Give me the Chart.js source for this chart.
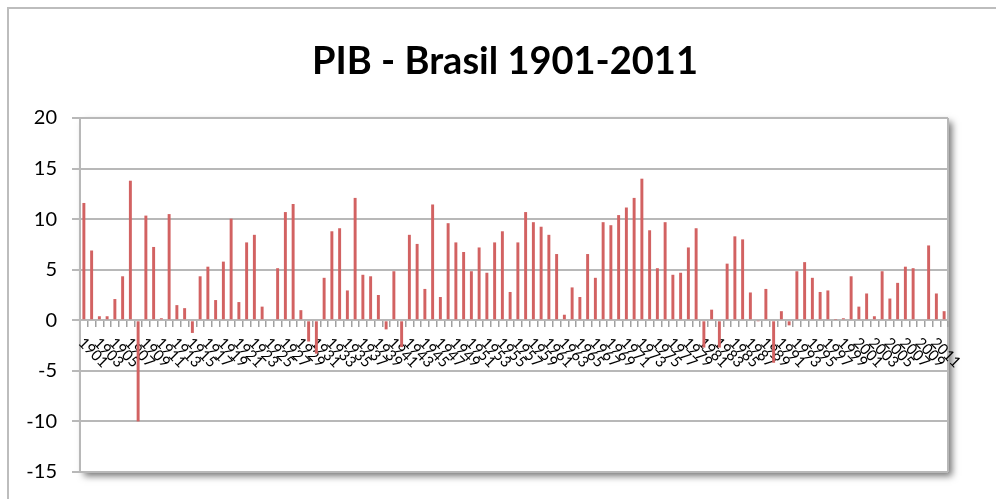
<!DOCTYPE html>
<html>
<head>
<meta charset="utf-8">
<title>PIB - Brasil 1901-2011</title>
<script src="https://cdn.jsdelivr.net/npm/chart.js@4.4.0/dist/chart.umd.min.js"></script>
<style>
  html, body { margin: 0; padding: 0; background: #fff; }
  canvas { display: block; }
</style>
</head>
<body>
<canvas id="pibChart" width="996" height="499"></canvas>
<script>
// Years 1901-2012 (the last bar has no label, labels every other year)
const firstYear = 1901;
const lastYear = 2012;
const years = [];
for (let y = firstYear; y <= lastYear; y++) years.push(String(y));

// Growth of GDP (%), one value per year
const growth1900s = [11.6, 6.9, 0.4, 0.4, 2.1, 4.35, 13.8, -10.0, 10.35, 7.25];
const growth1910s = [0.2, 10.5, 1.5, 1.2, -1.25, 4.35, 5.3, 2.0, 5.8, 10.05];
const growth1920s = [1.8, 7.7, 8.45, 1.35, 0.0, 5.15, 10.7, 11.5, 1.0, -2.1];
const growth1930s = [-3.3, 4.2, 8.8, 9.1, 2.95, 12.1, 4.5, 4.35, 2.5, -0.9];
const growth1940s = [4.85, -2.65, 8.45, 7.55, 3.1, 11.45, 2.3, 9.6, 7.7, 6.75];
const growth1950s = [4.85, 7.2, 4.7, 7.7, 8.8, 2.8, 7.7, 10.7, 9.7, 9.25];
const growth1960s = [8.45, 6.55, 0.55, 3.25, 2.3, 6.55, 4.2, 9.7, 9.4, 10.4];
const growth1970s = [11.15, 12.1, 14.0, 8.9, 5.15, 9.7, 4.5, 4.7, 7.2, 9.1];
const growth1980s = [-2.7, 1.05, -2.7, 5.6, 8.3, 8.0, 2.75, -0.05, 3.1, -4.2];
const growth1990s = [0.9, -0.5, 4.85, 5.75, 4.2, 2.8, 2.95, 0.05, 0.2, 4.35];
const growth2000s = [1.35, 2.65, 0.4, 4.85, 2.15, 3.7, 5.3, 5.15, -0.1, 7.4];
const growth2010s = [2.65, 0.9];

const growth = [].concat(growth1900s, growth1910s, growth1920s, growth1930s,
  growth1940s, growth1950s, growth1960s, growth1970s, growth1980s,
  growth1990s, growth2000s, growth2010s);

const yTicks = [20, 15, 10, 5, 0, -5, -10, -15];

const gridGray = '#b8b8b8';
const font = "Lato, 'Open Sans', sans-serif";

// frame, title and the plot area with its drop shadow
const backgroundPlugin = {
  id: 'background',
  beforeDraw(chart) {
    const ctx = chart.ctx;
    const a = chart.chartArea;
    ctx.save();
    ctx.fillStyle = '#fff';
    ctx.fillRect(0, 0, chart.width, chart.height);

    // outer chart frame
    ctx.strokeStyle = '#bdbdbd';
    ctx.lineWidth = 2;
    ctx.beginPath();
    ctx.moveTo(8, chart.height + 5);
    ctx.lineTo(8, 8);
    ctx.lineTo(chart.width + 5, 8);
    ctx.stroke();

    // plot area shadow
    ctx.save();
    ctx.shadowColor = 'rgba(0,0,0,0.55)';
    ctx.shadowBlur = 7;
    ctx.shadowOffsetX = 4;
    ctx.shadowOffsetY = 4;
    ctx.fillStyle = '#fff';
    ctx.fillRect(a.left, a.top, a.right - a.left, a.bottom - a.top);
    ctx.restore();

    ctx.strokeStyle = gridGray;
    ctx.lineWidth = 2;
    ctx.beginPath();
    ctx.moveTo(a.right, a.top);
    ctx.lineTo(a.right, a.bottom);
    ctx.stroke();

    // title
    ctx.fillStyle = '#000';
    ctx.font = "bold 38px " + font;
    ctx.textAlign = 'center';
    ctx.textBaseline = 'middle';
    ctx.fillText('PIB - Brasil 1901-2011', 505, 62);
    ctx.restore();
  }
};

// year labels, slanted downwards like the original, every other year
const yearLabelsPlugin = {
  id: 'yearLabels',
  beforeDatasetsDraw(chart) {
    const ctx = chart.ctx;
    const xScale = chart.scales.x;
    const y0 = chart.scales.y.getPixelForValue(0);
    ctx.save();
    ctx.fillStyle = '#000';
    ctx.font = "15px " + font;
    ctx.textAlign = 'left';
    ctx.textBaseline = 'middle';
    for (let i = 0; i < years.length; i += 2) {
      const x = xScale.getPixelForValue(i);
      ctx.save();
      ctx.translate(x - 3, y0 + 20);
      ctx.rotate(Math.PI / 4);
      ctx.fillText(years[i], 0, 0);
      ctx.restore();
    }
    ctx.restore();
  }
};

new Chart(document.getElementById('pibChart'), {
  type: 'bar',
  data: {
    labels: years,
    datasets: [{
      label: 'PIB',
      data: growth,
      backgroundColor: 'rgb(210, 98, 98)',
      borderWidth: 0,
      barPercentage: 0.38,
      categoryPercentage: 1.0
    }]
  },
  options: {
    responsive: false,
    animation: false,
    layout: {
      padding: { left: 0, right: 48, top: 118, bottom: 27 }
    },
    plugins: {
      legend: { display: false },
      title: { display: false },
      tooltip: { enabled: false }
    },
    scales: {
      x: {
        position: { y: 0 },
        offset: true,
        grid: {
          display: true,
          offset: true,
          drawOnChartArea: false,
          drawTicks: true,
          tickLength: 6,
          color: '#a0a0a0',
          lineWidth: 1.5
        },
        border: { display: true, color: gridGray, width: 2 },
        ticks: { display: false }
      },
      y: {
        min: -15,
        max: 20,
        afterFit(scale) { scale.width = 80; },
        afterBuildTicks(scale) {
          scale.ticks = yTicks.map(v => ({ value: v }));
        },
        grid: {
          color: gridGray,
          lineWidth: 2,
          drawTicks: true,
          tickLength: 8
        },
        border: { display: true, color: gridGray, width: 2 },
        ticks: {
          color: '#000',
          padding: 15,
          font: { family: font, size: 20 }
        }
      }
    }
  },
  plugins: [backgroundPlugin, yearLabelsPlugin]
});
</script>
</body>
</html>
